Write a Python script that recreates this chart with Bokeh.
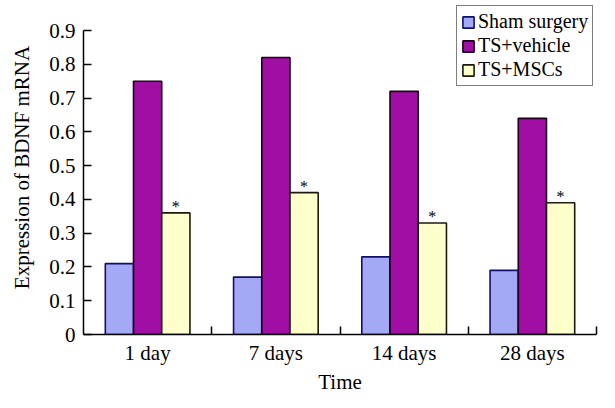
import numpy as np
from bokeh.plotting import figure
from bokeh.models import FixedTicker, Legend, LegendItem, ColumnDataSource
from bokeh.core.properties import value
from bokeh.embed import file_html
from bokeh.resources import INLINE

categories = ["1 day", "7 days", "14 days", "28 days"]
series_names = ["Sham surgery", "TS+vehicle", "TS+MSCs"]
sham = [0.21, 0.17, 0.23, 0.19]
vehicle = [0.75, 0.82, 0.72, 0.64]
mscs = [0.36, 0.42, 0.33, 0.39]
y_ticks = [0, 0.1, 0.2, 0.3, 0.4, 0.5, 0.6, 0.7, 0.8, 0.9]

FONT = "Liberation Serif"
fills = ["#a4a9f6", "#a00ea4", "#ffffcc"]
lines = ["#10106a", "#1a001a", "#1a1a10"]

p = figure(width=599, height=392, frame_width=513, frame_height=334,
           output_backend="svg", toolbar_location=None,
           x_range=(0, 4), y_range=(0, 0.989),
           min_border_left=83, min_border_right=3, min_border_top=0, min_border_bottom=58)
p.outline_line_color = None
p.grid.grid_line_color = None
p.background_fill_color = "white"

centers = np.arange(len(categories)) + 0.5
offsets = [-0.22, 0.0, 0.22]
renderers = []
for vals, off, fc, lc in zip([sham, vehicle, mscs], offsets, fills, lines):
    src = ColumnDataSource(dict(x=centers + off, top=vals))
    r = p.vbar(x="x", top="top", bottom=0, width=0.22, source=src,
               fill_color=fc, line_color=lc, line_width=1.6)
    renderers.append(r)

# significance asterisks
p.text(x=centers + offsets[2], y=mscs, text=["*"] * len(mscs),
       text_font=value(FONT), text_font_size="16px", text_align="center",
       text_baseline="bottom", y_offset=2, text_color="black")

# x axis
xa = p.xaxis[0]
xa.ticker = FixedTicker(ticks=list(centers), minor_ticks=[1, 2, 3, 4])
xa.major_label_overrides = {float(c): lab for c, lab in zip(centers, categories)}
xa.major_tick_in = 0
xa.major_tick_out = 0
xa.minor_tick_in = 8
xa.minor_tick_out = 0
xa.minor_tick_line_color = "black"
xa.minor_tick_line_width = 1.5
xa.axis_label = "Time"

# y axis
ya = p.yaxis[0]
ya.ticker = FixedTicker(ticks=y_ticks)
ya.bounds = (0, 0.9)
ya.major_label_overrides = {0: "0"}
ya.major_tick_in = 8
ya.major_tick_out = 0
ya.minor_tick_line_color = None
ya.axis_label = "Expression of BDNF mRNA"

for ax in (xa, ya):
    ax.axis_line_color = "black"
    ax.axis_line_width = 1.5
    ax.major_tick_line_color = "black"
    ax.major_tick_line_width = 1.5
    ax.major_label_text_font = FONT
    ax.major_label_text_font_size = "21px"
    ax.major_label_text_color = "black"
    ax.axis_label_text_font = FONT
    ax.axis_label_text_font_size = "21px"
    ax.axis_label_text_font_style = "normal"
    ax.axis_label_text_color = "black"

xa.major_label_standoff = 6
xa.axis_label_standoff = 2
ya.major_label_standoff = 8
ya.axis_label_standoff = 12

legend = Legend(items=[LegendItem(label=n, renderers=[r]) for n, r in zip(series_names, renderers)],
                location=(373, 248))
legend.label_text_font = FONT
legend.label_text_font_size = "20px"
legend.label_text_color = "black"
legend.glyph_width = 14
legend.glyph_height = 14
legend.label_height = 20
legend.label_standoff = 3
legend.spacing = 1
legend.padding = 4
legend.margin = 0
legend.border_line_color = "black"
legend.border_line_width = 1.5
legend.background_fill_alpha = 1
p.add_layout(legend, "center")

open("out.html", "w").write(file_html(p, INLINE))
